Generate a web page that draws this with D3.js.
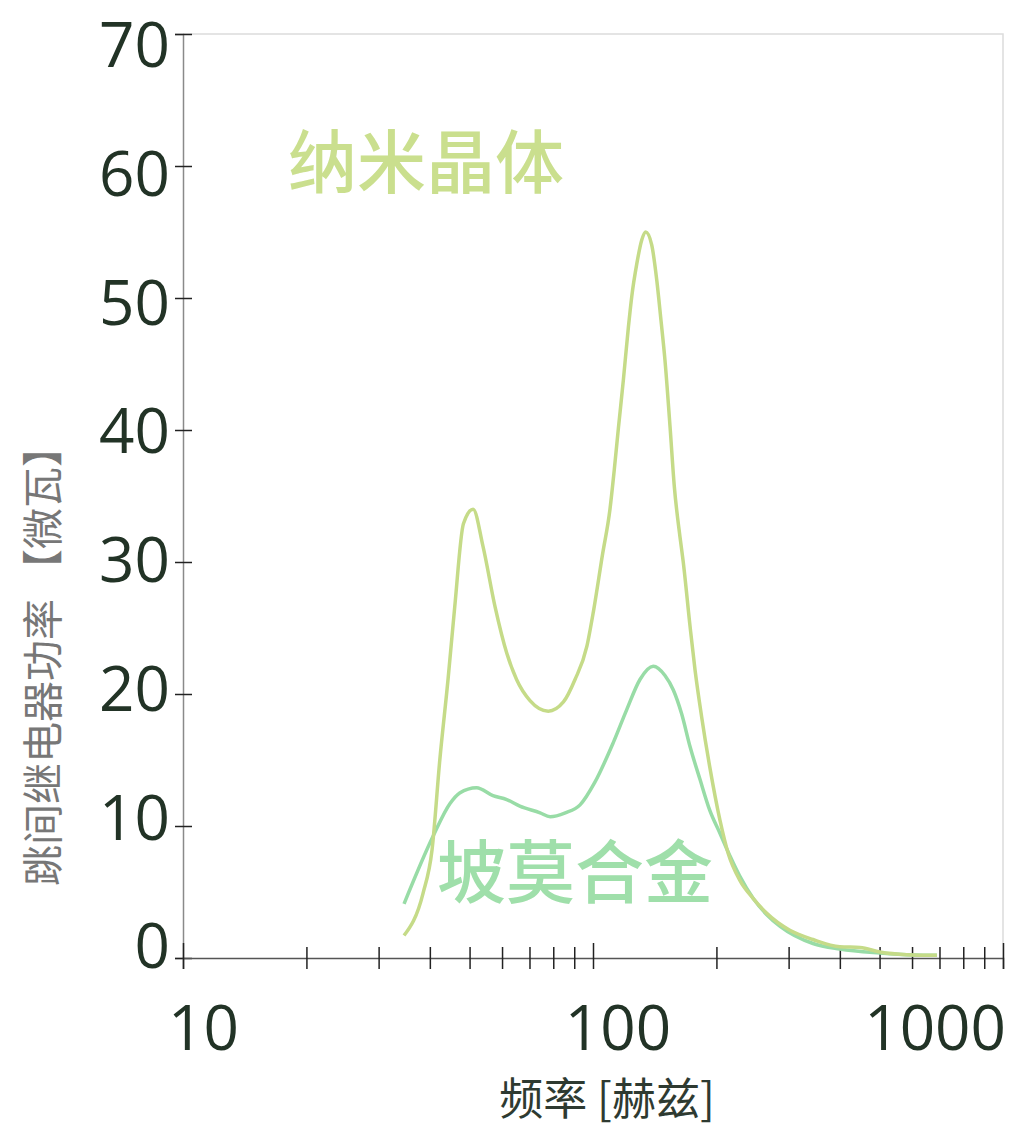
<!DOCTYPE html>
<html>
<head>
<meta charset="utf-8">
<script src="https://cdn.jsdelivr.net/npm/d3@7"></script>
<style>
  body { margin: 0; background: #fff; }
  svg { display: block; }
</style>
</head>
<body>
<div id="root"></div>
<script>
// frequency [Hz] for each sample
const nanoFreq = [34.6, 38.5, 40.5, 42.3, 44.3, 46.0, 48.3, 51.0, 53.9, 57.7, 61.6, 65.1, 70.2, 77.8, 84.7, 90.4, 96.6, 100.3, 105.4, 110, 112.7, 115.3, 118.6, 122, 124.3, 127.9, 131.5, 134.5, 139.1, 143, 146.5, 149.8, 154.1, 157.9, 163, 166, 172.5, 177.4, 184, 192.6, 204, 213.8, 228, 246, 265, 302, 344, 400, 448, 501, 583, 690];
const nanoPower = [1.7, 4.9, 8.2, 15.0, 21.1, 26.6, 32.9, 34.0, 31.2, 26.6, 23.1, 21.1, 19.5, 18.7, 19.4, 21.1, 23.6, 26.3, 30.5, 34.0, 37.0, 40.1, 43.8, 47.8, 50.1, 52.6, 54.4, 55.0, 54.0, 51.4, 48.3, 45.3, 40.3, 35.7, 31.9, 30.0, 25.1, 21.8, 18.3, 14.5, 10.45, 7.9, 5.9, 4.5, 3.4, 2.1, 1.4, 0.85, 0.8, 0.45, 0.25, 0.2];

const permFreq = [34.6, 40.7, 44.8, 47.3, 52, 57, 61.6, 66.3, 74.3, 78.6, 85.6, 93, 101, 112, 120.8, 130.2, 140.2, 149.8, 157, 164.5, 172.5, 182.5, 192.6, 204, 216, 228, 246, 265, 286, 344, 400, 501, 606, 690];
const permPower = [4.1, 9.2, 11.7, 12.5, 12.9, 12.3, 12.0, 11.5, 11.0, 10.7, 11.0, 11.6, 13.3, 16.3, 18.8, 21.1, 22.1, 21.4, 20.3, 18.5, 16.0, 13.5, 11.2, 9.45, 7.7, 6.2, 4.5, 3.3, 2.4, 1.1, 0.68, 0.38, 0.23, 0.2];

const yTicks = [0, 10, 20, 30, 40, 50, 60, 70];
const xMajor = [10, 100, 1000];
const xMinor = [20, 30, 40, 50, 60, 70, 80, 90, 200, 300, 400, 500, 600, 700, 800, 900];

const labels = { nano: "纳米晶体", perm: "坡莫合金" };
const xTitle = "频率 [赫兹]";
const yTitle = "跳间继电器功率 【微瓦】";

const W = 1012, H = 1129;
const m = { left: 183, right: 9, top: 34, bottom: 171 };
const nanoColor = "#c5db88";
const permColor = "#98dca6";
const inkColor = "#223326";

const svg = d3.select("#root").append("svg")
  .attr("width", W)
  .attr("height", H);

const x = d3.scaleLog().domain([10, 1000]).range([m.left, W - m.right]);
const y = d3.scaleLinear().domain([0, 70]).range([H - m.bottom, m.top]);

// light frame on top and right
svg.append("path")
  .attr("d", `M${x(10)},${y(70)}H${x(1000)}V${y(0)}`)
  .attr("fill", "none")
  .attr("stroke", "#dcdcdc")
  .attr("stroke-width", 1.5);

// y axis
const yAxis = svg.append("g")
  .attr("transform", `translate(${x(10)},0)`)
  .call(d3.axisLeft(y).tickValues(yTicks).tickSize(8).tickFormat(d3.format("d")));
yAxis.select(".domain").attr("stroke", "#8a8a8a").attr("stroke-width", 1.5);
yAxis.selectAll(".tick line").attr("x2", 9).attr("x1", -8).attr("stroke", "#222").attr("stroke-width", 1.5);
// labels sit a little tighter than the ticks: pulled inwards at both ends
yAxis.selectAll(".tick text")
  .attr("x", -13)
  .attr("y", d => -12.5 + 23 * d / 70)
  .attr("dy", "0.36em")
  .attr("fill", inkColor)
  .style("font-family", "'Open Sans', sans-serif")
  .style("font-size", "62px");

// x axis
const xAxis = svg.append("g")
  .attr("transform", `translate(0,${y(0)})`)
  .call(d3.axisBottom(x).tickValues(xMajor.concat(xMinor)).tickSize(11).tickFormat(""));
xAxis.select(".domain").attr("stroke", "#555").attr("stroke-width", 1.5);
xAxis.selectAll(".tick line")
  .attr("y1", d => xMajor.includes(d) ? -15 : -11)
  .attr("stroke", "#222")
  .attr("stroke-width", 1.5);

svg.append("g").selectAll("text")
  .data(xMajor)
  .join("text")
  .attr("x", (d, i) => x(d) + [-15, 25, 3][i])
  .attr("y", y(0) + 92)
  .attr("text-anchor", (d, i) => ["start", "middle", "end"][i])
  .attr("fill", inkColor)
  .style("font-family", "'Open Sans', sans-serif")
  .style("font-size", "62px")
  .text(d => d);

// axis titles
svg.append("text")
  .attr("x", 607)
  .attr("y", H - 14)
  .attr("text-anchor", "middle")
  .attr("fill", "#2e3a31")
  .style("font-family", "'Noto Sans CJK SC', sans-serif")
  .style("font-size", "44px")
  .text(xTitle);

svg.append("text")
  .attr("transform", `translate(58,${(y(0) + y(70)) / 2 + 160}) rotate(-90)`)
  .attr("text-anchor", "middle")
  .attr("fill", "#777")
  .style("font-family", "'Noto Sans CJK SC', sans-serif")
  .style("font-size", "41px")
  .text(yTitle);

// curves
const line = d3.line()
  .x(d => x(d[0]))
  .y(d => y(d[1]))
  .curve(d3.curveMonotoneX);

const series = [
  { f: permFreq, p: permPower, color: permColor },
  { f: nanoFreq, p: nanoPower, color: nanoColor }
];

svg.append("g").selectAll("path")
  .data(series)
  .join("path")
  .attr("d", s => line(s.f.map((f, i) => [f, s.p[i]])))
  .attr("fill", "none")
  .attr("stroke", s => s.color)
  .attr("stroke-width", 3.5)
  .attr("stroke-linejoin", "round");

// in-plot labels
svg.append("text")
  .attr("x", 288)
  .attr("y", 188)
  .attr("fill", "#cadf8e")
  .style("font-family", "'Noto Sans CJK SC', sans-serif")
  .style("font-size", "69px")
  .style("font-weight", 500)
  .text(labels.nano);

svg.append("text")
  .attr("x", 437)
  .attr("y", 898)
  .attr("fill", "#9fdfaa")
  .style("font-family", "'Noto Sans CJK SC', sans-serif")
  .style("font-size", "69px")
  .style("font-weight", 500)
  .text(labels.perm);
</script>
</body>
</html>
